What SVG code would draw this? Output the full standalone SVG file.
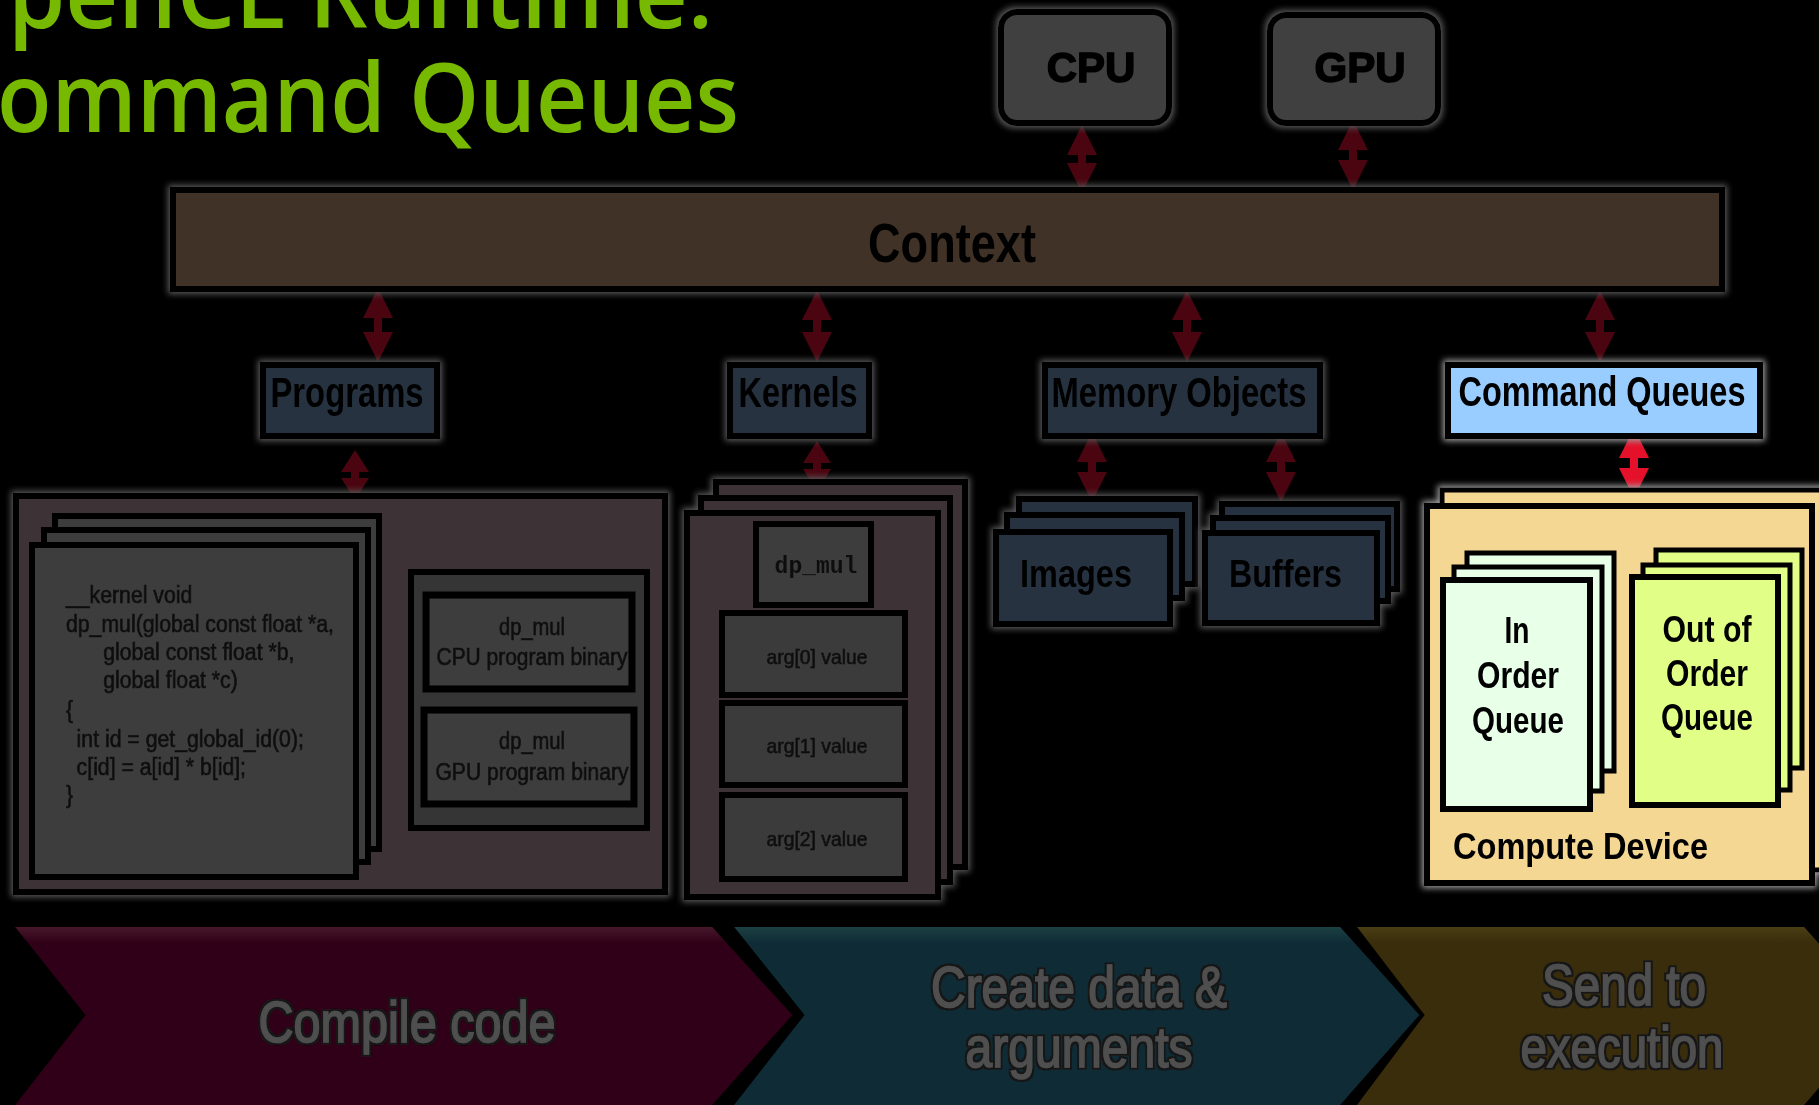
<svg xmlns="http://www.w3.org/2000/svg" width="1819" height="1105" viewBox="0 0 1819 1105">
<defs>
<style>
.title{font-family:"Open Sans","Noto Sans",sans-serif;font-weight:600;fill:#76b900;font-size:96px}
.b{font-family:"Liberation Sans",Arial,sans-serif;font-weight:bold;fill:#000}
.r{font-family:"Liberation Sans",Arial,sans-serif;fill:#101010;stroke:#101010;stroke-width:0.6}
.mono{font-family:"Liberation Mono","Courier New",monospace;font-weight:bold;fill:#111}
.dim{fill:#253241;stroke:#000;stroke-width:6}
.pg{fill:#3d3236;stroke:#000;stroke-width:6}
.cp{fill:#3c3c3c;stroke:#000;stroke-width:6}
.arw{fill:#4a0510}
.arwr{fill:#e5102a}
.chev{stroke:#000;stroke-width:4}
.ct{font-family:"Liberation Sans",Arial,sans-serif;fill:#4f4f4f;stroke:#4f4f4f;stroke-width:1.6;font-size:58px;text-anchor:middle}
</style>
<filter id="glow" x="-20%" y="-20%" width="140%" height="140%">
<feMorphology in="SourceAlpha" operator="dilate" radius="2" result="d"/>
<feGaussianBlur in="d" stdDeviation="3" result="bl"/>
<feFlood flood-color="#5a5a5a"/>
<feComposite in2="bl" operator="in" result="g"/>
<feMerge><feMergeNode in="g"/><feMergeNode in="SourceGraphic"/></feMerge>
</filter>
<filter id="glowB" x="-20%" y="-20%" width="140%" height="140%">
<feMorphology in="SourceAlpha" operator="dilate" radius="2" result="d"/>
<feGaussianBlur in="d" stdDeviation="3" result="bl"/>
<feFlood flood-color="#a0a0a0"/>
<feComposite in2="bl" operator="in" result="g"/>
<feMerge><feMergeNode in="g"/><feMergeNode in="SourceGraphic"/></feMerge>
</filter>
<filter id="tshadow" x="-10%" y="-20%" width="120%" height="140%">
<feMorphology in="SourceAlpha" operator="dilate" radius="1.5" result="d"/>
<feFlood flood-color="#161616"/>
<feComposite in2="d" operator="in" result="o"/>
<feMerge><feMergeNode in="o"/><feMergeNode in="SourceGraphic"/></feMerge>
</filter>
<linearGradient id="gRed" x1="0" y1="0" x2="0" y2="1">
<stop offset="0" stop-color="#4a1a2e"/><stop offset="0.1" stop-color="#2f0017"/><stop offset="1" stop-color="#2f0017"/>
</linearGradient>
<linearGradient id="gTeal" x1="0" y1="0" x2="0" y2="1">
<stop offset="0" stop-color="#1d4244"/><stop offset="0.1" stop-color="#0f2c36"/><stop offset="1" stop-color="#0f2c36"/>
</linearGradient>
<linearGradient id="gGold" x1="0" y1="0" x2="0" y2="1">
<stop offset="0" stop-color="#4a4016"/><stop offset="0.1" stop-color="#3a2d0b"/><stop offset="1" stop-color="#3a2d0b"/>
</linearGradient>
</defs>
<rect width="1819" height="1105" fill="#000"/>

<g id="title">
<text class="title" x="8" y="28" textLength="705" lengthAdjust="spacingAndGlyphs">penCL Runtime:</text>
<text class="title" x="-3" y="132" textLength="742" lengthAdjust="spacingAndGlyphs">ommand Queues</text>
</g>

<g id="phases">
<g id="phase-send">
<polygon class="chev" fill="url(#gGold)" points="1353,925 1805,925 1885,1015 1805,1107 1353,1107 1422,1015"/>
<g filter="url(#tshadow)">
<text class="ct" x="1624" y="1005" textLength="164" lengthAdjust="spacingAndGlyphs">Send to</text>
<text class="ct" x="1622" y="1067" textLength="203" lengthAdjust="spacingAndGlyphs">execution</text>
</g>
</g>
<g id="phase-create">
<polygon class="chev" fill="url(#gTeal)" points="730,925 1341,925 1422,1015 1341,1107 730,1107 802,1015"/>
<g filter="url(#tshadow)">
<text class="ct" x="1079" y="1007" textLength="296" lengthAdjust="spacingAndGlyphs">Create data &amp;</text>
<text class="ct" x="1079" y="1067" textLength="227" lengthAdjust="spacingAndGlyphs">arguments</text>
</g>
</g>
<g id="phase-compile">
<polygon class="chev" fill="url(#gRed)" points="11,925 713,925 795,1015 713,1107 11,1107 83,1015"/>
<g filter="url(#tshadow)">
<text class="ct" x="407" y="1042" textLength="297" lengthAdjust="spacingAndGlyphs">Compile code</text>
</g>
</g>
</g>

<g id="connectors">
<path class="arw" d="M1082,125 L1097,155 L1086,155 L1086,163 L1097,163 L1082,193 L1067,163 L1078,163 L1078,155 L1067,155 Z"/>
<path class="arw" d="M1353,120 L1368,150 L1357,150 L1357,160 L1368,160 L1353,190 L1338,160 L1349,160 L1349,150 L1338,150 Z"/>
<path class="arw" d="M378,288 L393,318 L382,318 L382,332 L393,332 L378,362 L363,332 L374,332 L374,318 L363,318 Z"/>
<path class="arw" d="M817,290 L832,320 L821,320 L821,332 L832,332 L817,362 L802,332 L813,332 L813,320 L802,320 Z"/>
<path class="arw" d="M1187,290 L1202,320 L1191,320 L1191,332 L1202,332 L1187,362 L1172,332 L1183,332 L1183,320 L1172,320 Z"/>
<path class="arw" d="M1600,290 L1615,320 L1604,320 L1604,332 L1615,332 L1600,362 L1585,332 L1596,332 L1596,320 L1585,320 Z"/>
<path class="arw" d="M355,450 L369,472 L359,472 L359,478 L369,478 L355,500 L341,478 L351,478 L351,472 L341,472 Z"/>
<path class="arw" d="M817,441 L831,463 L821,463 L821,469 L831,469 L817,491 L803,469 L813,469 L813,463 L803,463 Z"/>
<path class="arw" d="M1092,432 L1107,462 L1096,462 L1096,472 L1107,472 L1092,502 L1077,472 L1088,472 L1088,462 L1077,462 Z"/>
<path class="arw" d="M1281,432 L1296,462 L1285,462 L1285,472 L1296,472 L1281,502 L1266,472 L1277,472 L1277,462 L1266,462 Z"/>
<path class="arwr" d="M1634,428 L1649,458 L1638,458 L1638,468 L1649,468 L1634,498 L1619,468 L1630,468 L1630,458 L1619,458 Z"/>
</g>

<g id="cpu" filter="url(#glow)">
<rect x="1001" y="12" width="168" height="111" rx="16" fill="#404040" stroke="#000" stroke-width="6"/>
<text class="b" x="1091" y="82" font-size="42" text-anchor="middle" stroke="#000" stroke-width="1.5">CPU</text>
</g>
<g id="gpu" filter="url(#glow)">
<rect x="1270" y="15" width="168" height="108" rx="16" fill="#404040" stroke="#000" stroke-width="6"/>
<text class="b" x="1360" y="82" font-size="42" text-anchor="middle" stroke="#000" stroke-width="1.5">GPU</text>
</g>

<g id="context" filter="url(#glow)">
<rect x="173" y="190" width="1549" height="99" fill="#403126" stroke="#000" stroke-width="6"/>
<text class="b" x="952" y="262" font-size="56" text-anchor="middle" textLength="168" lengthAdjust="spacingAndGlyphs">Context</text>
</g>

<g id="programs" filter="url(#glow)">
<rect class="dim" x="263" y="365" width="174" height="71"/>
<text class="b" x="347" y="407" font-size="42" text-anchor="middle" textLength="153" lengthAdjust="spacingAndGlyphs">Programs</text>
</g>
<g id="kernels" filter="url(#glow)">
<rect class="dim" x="730" y="365" width="139" height="71"/>
<text class="b" x="798" y="407" font-size="42" text-anchor="middle" textLength="119" lengthAdjust="spacingAndGlyphs">Kernels</text>
</g>
<g id="memory-objects" filter="url(#glow)">
<rect class="dim" x="1045" y="365" width="275" height="71"/>
<text class="b" x="1179" y="407" font-size="42" text-anchor="middle" textLength="255" lengthAdjust="spacingAndGlyphs">Memory Objects</text>
</g>
<g id="command-queues" filter="url(#glowB)">
<rect x="1448" y="365" width="312" height="71" fill="#99ccff" stroke="#000" stroke-width="6"/>
<text class="b" x="1602" y="406" font-size="42" text-anchor="middle" textLength="287" lengthAdjust="spacingAndGlyphs">Command Queues</text>
</g>

<g id="program-sources" filter="url(#glow)">
<rect x="16" y="496" width="649" height="396" fill="#3d3035" stroke="#000" stroke-width="6"/>
<rect class="cp" x="55" y="516" width="324" height="333"/>
<rect class="cp" x="44" y="530" width="324" height="332"/>
<rect class="cp" x="32" y="545" width="324" height="332"/>
<g transform="translate(66,0) scale(0.885,1)" class="r" font-size="24">
<text x="0" y="603">__kernel void</text>
<text x="0" y="632">dp_mul(global const float *a,</text>
<text x="42" y="660">global const float *b,</text>
<text x="42" y="688">global float *c)</text>
<text x="0" y="718">{</text>
<text x="12" y="747">int id = get_global_id(0);</text>
<text x="12" y="775">c[id] = a[id] * b[id];</text>
<text x="0" y="803">}</text>
</g>
<rect x="411" y="572" width="236" height="256" fill="#343434" stroke="#000" stroke-width="6"/>
<rect x="426" y="595" width="206" height="94" fill="#3c3c3c" stroke="#000" stroke-width="7"/>
<rect x="424" y="710" width="210" height="94" fill="#3c3c3c" stroke="#000" stroke-width="7"/>
<text class="r" x="532" y="635" font-size="23" text-anchor="middle" textLength="66" lengthAdjust="spacingAndGlyphs">dp_mul</text>
<text class="r" x="532" y="665" font-size="23" text-anchor="middle" textLength="191" lengthAdjust="spacingAndGlyphs">CPU program binary</text>
<text class="r" x="532" y="749" font-size="23" text-anchor="middle" textLength="66" lengthAdjust="spacingAndGlyphs">dp_mul</text>
<text class="r" x="532" y="780" font-size="23" text-anchor="middle" textLength="193" lengthAdjust="spacingAndGlyphs">GPU program binary</text>
</g>

<g id="kernel-objects" filter="url(#glow)">
<rect class="pg" x="716" y="482" width="249" height="385"/>
<rect class="pg" x="701" y="498" width="249" height="384"/>
<rect class="pg" x="687" y="513" width="251" height="384"/>
<rect x="756" y="524" width="115" height="81" fill="#3c3c3c" stroke="#000" stroke-width="6"/>
<text class="mono" x="816" y="573" font-size="23" text-anchor="middle">dp_mul</text>
<rect x="722" y="613" width="183" height="82" fill="#3a3a3a" stroke="#000" stroke-width="6"/>
<rect x="722" y="703" width="183" height="82" fill="#3a3a3a" stroke="#000" stroke-width="6"/>
<rect x="722" y="795" width="183" height="84" fill="#3a3a3a" stroke="#000" stroke-width="6"/>
<text class="r" x="817" y="664" font-size="21" text-anchor="middle" textLength="101" lengthAdjust="spacingAndGlyphs">arg[0] value</text>
<text class="r" x="817" y="753" font-size="21" text-anchor="middle" textLength="101" lengthAdjust="spacingAndGlyphs">arg[1] value</text>
<text class="r" x="817" y="846" font-size="21" text-anchor="middle" textLength="101" lengthAdjust="spacingAndGlyphs">arg[2] value</text>
</g>

<g id="images" filter="url(#glow)">
<rect class="dim" x="1019" y="499" width="176" height="85" stroke-width="5"/>
<rect class="dim" x="1007" y="515" width="175" height="83" stroke-width="5"/>
<rect class="dim" x="996" y="532" width="174" height="92" stroke-width="6"/>
<text class="b" x="1020" y="587" font-size="39" textLength="112" lengthAdjust="spacingAndGlyphs">Images</text>
</g>
<g id="buffers" filter="url(#glow)">
<rect class="dim" x="1222" y="504" width="175" height="85" stroke-width="5"/>
<rect class="dim" x="1213" y="518" width="175" height="83" stroke-width="5"/>
<rect class="dim" x="1205" y="533" width="172" height="90" stroke-width="6"/>
<text class="b" x="1229" y="587" font-size="39" textLength="113" lengthAdjust="spacingAndGlyphs">Buffers</text>
</g>

<g id="compute-device" filter="url(#glowB)">
<rect x="1442" y="490" width="400" height="380" fill="#f4d793" stroke="#000" stroke-width="5"/>
<rect x="1427" y="506" width="385" height="377" fill="#f4d793" stroke="#000" stroke-width="6"/>
<g id="in-order-queue">
<rect x="1467" y="553" width="147" height="218" fill="#e8ffe8" stroke="#000" stroke-width="5"/>
<rect x="1454" y="567" width="148" height="224" fill="#e8ffe8" stroke="#000" stroke-width="5"/>
<rect x="1443" y="580" width="147" height="229" fill="#e8ffe8" stroke="#000" stroke-width="6"/>
<text class="b" x="1517" y="643" font-size="36" text-anchor="middle" textLength="25" lengthAdjust="spacingAndGlyphs">In</text>
<text class="b" x="1518" y="688" font-size="36" text-anchor="middle" textLength="82" lengthAdjust="spacingAndGlyphs">Order</text>
<text class="b" x="1518" y="733" font-size="36" text-anchor="middle" textLength="92" lengthAdjust="spacingAndGlyphs">Queue</text>
</g>
<g id="out-of-order-queue">
<rect x="1656" y="550" width="146" height="218" fill="#e1ff86" stroke="#000" stroke-width="5"/>
<rect x="1643" y="565" width="147" height="225" fill="#e1ff86" stroke="#000" stroke-width="5"/>
<rect x="1632" y="577" width="146" height="228" fill="#e1ff86" stroke="#000" stroke-width="6"/>
<text class="b" x="1707" y="642" font-size="36" text-anchor="middle" textLength="89" lengthAdjust="spacingAndGlyphs">Out of</text>
<text class="b" x="1707" y="686" font-size="36" text-anchor="middle" textLength="82" lengthAdjust="spacingAndGlyphs">Order</text>
<text class="b" x="1707" y="730" font-size="36" text-anchor="middle" textLength="92" lengthAdjust="spacingAndGlyphs">Queue</text>
</g>
<text class="b" x="1453" y="859" font-size="36" textLength="255" lengthAdjust="spacingAndGlyphs">Compute Device</text>
</g>
</svg>
